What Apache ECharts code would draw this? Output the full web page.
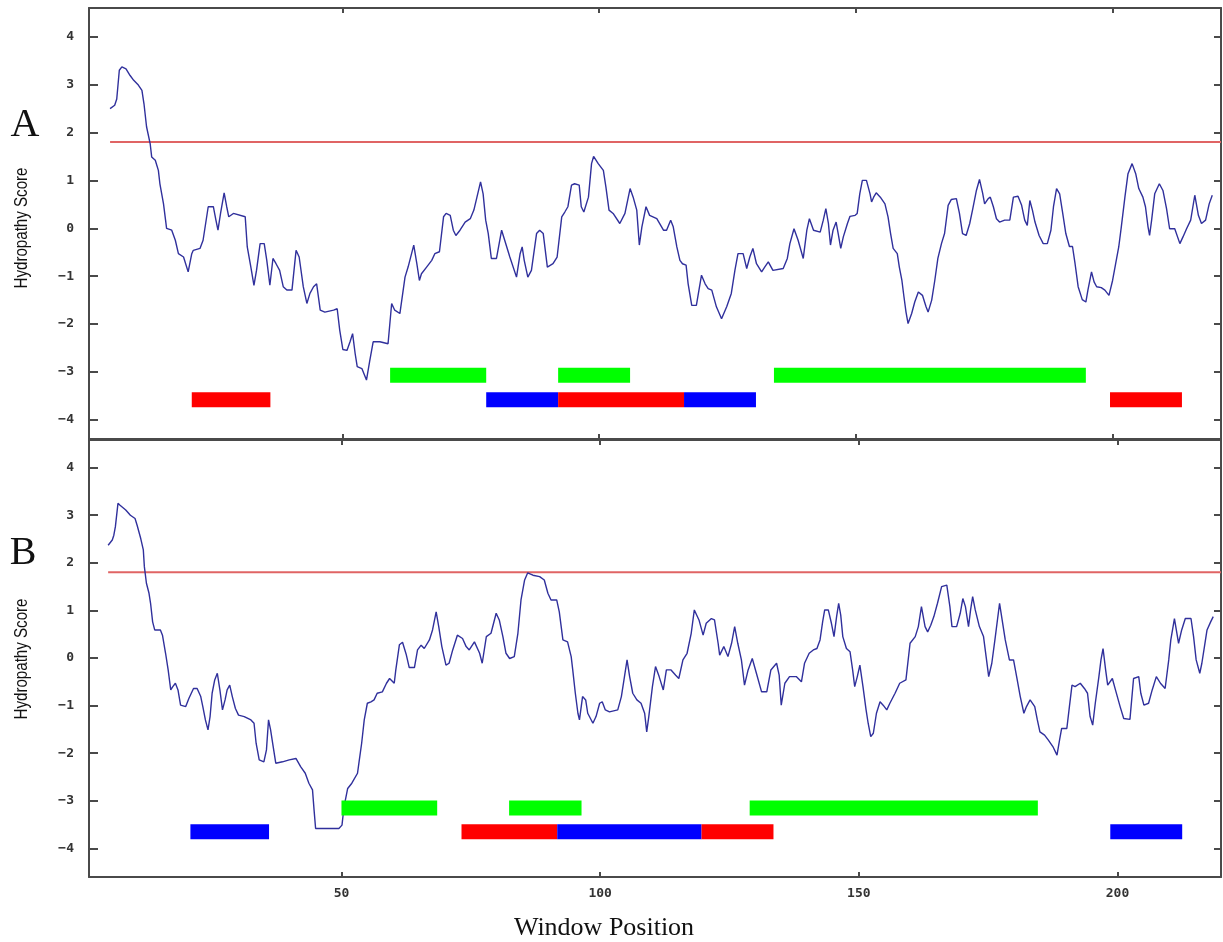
<!DOCTYPE html>
<html><head><meta charset="utf-8">
<script src="https://cdn.jsdelivr.net/npm/echarts@6/dist/echarts.min.js"></script>
<style>html,body{margin:0;padding:0;background:#fff}#c{width:1223px;height:942px}</style>
</head><body><div id="c"></div>
<script>
// ---------- DATA ----------
const scoreA = [
[4.8,2.50],[5.7,2.57],[6.1,2.70],[6.6,3.30],[7.1,3.37],[7.9,3.33],[8.7,3.19],[9.4,3.09],[10.3,2.99],[11.0,2.88],[11.4,2.60],[11.9,2.12],[12.6,1.77],[12.9,1.49],[13.6,1.42],[14.2,1.21],[14.5,0.93],[15.2,0.51],[15.6,0.17],[15.8,0.0],[16.8,-0.04],[17.5,-0.25],[18.1,-0.53],[19.1,-0.60],[20.0,-0.91],[20.7,-0.53],[21.0,-0.46],[22.3,-0.42],[22.9,-0.25],[23.9,0.45],[24.9,0.45],[25.4,0.17],[25.8,-0.04],[26.3,0.31],[27.0,0.74],[27.5,0.45],[27.9,0.24],[28.8,0.31],[31.1,0.24],[31.5,-0.39],[32.2,-0.81],[32.8,-1.19],[33.3,-0.88],[34.0,-0.32],[34.8,-0.32],[35.3,-0.67],[35.9,-1.19],[36.5,-0.63],[37.1,-0.74],[37.8,-0.88],[38.5,-1.22],[39.2,-1.29],[40.2,-1.29],[41.0,-0.46],[41.6,-0.60],[42.4,-1.22],[43.1,-1.57],[43.7,-1.36],[44.4,-1.22],[45.0,-1.16],[45.7,-1.71],[46.6,-1.75],[48.3,-1.71],[49.0,-1.68],[49.5,-2.13],[50.1,-2.53],[50.9,-2.55],[51.5,-2.37],[52.0,-2.20],[52.5,-2.62],[52.9,-2.89],[53.8,-2.93],[54.7,-3.17],[55.3,-2.79],[56.0,-2.37],[57.3,-2.37],[58.9,-2.41],[59.6,-1.57],[60.2,-1.71],[61.2,-1.78],
[62.2,-1.02],[62.8,-0.81],[63.9,-0.35],[64.5,-0.74],[65.0,-1.09],[65.4,-0.95],[66.4,-0.81],[67.4,-0.67],[68.0,-0.53],[68.9,-0.49],[69.7,0.24],[70.2,0.31],[71.0,0.27],[71.6,-0.04],[72.1,-0.15],[72.9,-0.04],[73.9,0.13],[74.9,0.20],[75.6,0.38],[76.2,0.65],[76.9,0.97],[77.4,0.72],[77.9,0.17],[78.4,-0.11],[79.0,-0.63],[80.0,-0.63],[81.0,-0.04],[81.6,-0.25],[82.6,-0.60],[83.9,-1.02],[84.6,-0.53],[85.0,-0.39],[85.4,-0.67],[86.1,-1.02],[86.8,-0.88],[87.8,-0.11],[88.4,-0.04],[89.1,-0.11],[89.9,-0.81],[91.0,-0.74],[91.8,-0.60],[92.7,0.24],[93.3,0.34],[93.9,0.45],[94.6,0.90],[95.2,0.93],[96.1,0.90],[96.5,0.45],[97.0,0.34],[97.9,0.65],[98.5,1.35],[98.9,1.50],[99.8,1.35],[100.8,1.21],[101.3,0.86],[101.9,0.38],[102.7,0.31],[104.0,0.10],[105.0,0.31],[106.0,0.83],[106.6,0.65],[107.3,0.38],[107.8,-0.35],[108.3,0.03],[109.1,0.45],[109.8,0.27],[111.2,0.20],[112.5,-0.04],[113.1,-0.04],[113.9,0.17],[114.4,0.03],[115.1,-0.39],[115.7,-0.67],[116.2,-0.74],[116.9,-0.77],[117.3,-1.16],[118.0,-1.61],[118.9,-1.61],[119.9,-0.98],[120.6,-1.16],[121.2,-1.26],[121.9,-1.29],[122.8,-1.64],[123.8,-1.89],[124.8,-1.64],[125.7,-1.36],[126.4,-0.88],[127.0,-0.53],[128.0,-0.53],[128.7,-0.84],[129.3,-0.60],[129.9,-0.42],[130.6,-0.74],[131.6,-0.91],[132.2,-0.81],[132.9,-0.70],[133.8,-0.88],[135.8,-0.84],[136.6,-0.63],[137.1,-0.32],[137.9,-0.01],[138.7,-0.25],[139.7,-0.63],[140.4,-0.04],[140.9,0.20],[141.7,-0.04],[143.0,-0.08],
[143.6,0.17],[144.1,0.41],[144.6,0.10],[145.0,-0.35],[145.5,-0.04],[146.1,0.13],[146.5,-0.11],[147.0,-0.42],[147.5,-0.18],[148.3,0.10],[148.8,0.25],[149.8,0.27],[150.2,0.31],[150.7,0.72],[151.2,1.00],[152.0,1.00],[152.7,0.72],[153.0,0.55],[153.4,0.65],[153.9,0.74],[154.7,0.65],[155.6,0.51],[156.2,0.24],[156.7,-0.11],[157.2,-0.42],[158.0,-0.53],[158.4,-0.81],[158.9,-1.09],[159.3,-1.43],[159.7,-1.75],[160.1,-1.99],[160.8,-1.78],[161.4,-1.54],[162.1,-1.33],[162.9,-1.40],[163.6,-1.64],[164.0,-1.75],[164.7,-1.50],[165.3,-1.09],[165.9,-0.63],[166.6,-0.32],[167.2,-0.11],[167.9,0.48],[168.5,0.60],[169.5,0.62],[170.1,0.31],[170.7,-0.11],[171.4,-0.15],[172.1,0.10],[172.7,0.41],[173.4,0.79],[174.0,1.02],[174.6,0.74],[175.0,0.51],[175.7,0.62],[176.1,0.65],[176.7,0.45],[177.3,0.20],[177.9,0.13],[178.9,0.17],[179.9,0.17],[180.6,0.65],[181.5,0.67],[182.2,0.48],[182.8,0.17],[183.3,0.06],[183.8,0.58],[184.3,0.38],[184.8,0.13],[185.6,-0.15],[186.4,-0.32],[187.2,-0.32],[187.9,-0.04],[188.4,0.45],[189.0,0.83],[189.6,0.72],[190.2,0.31],[190.8,-0.11],[191.5,-0.38],[192.1,-0.38],[192.6,-0.74],[193.2,-1.22],[194.0,-1.49],[194.7,-1.54],[195.1,-1.29],[195.8,-0.91],[196.3,-1.12],[196.8,-1.22],[197.7,-1.24],[198.4,-1.29],[199.2,-1.40],[199.9,-1.09],[200.5,-0.74],[201.1,-0.39],[201.6,0.03],[202.3,0.65],[202.9,1.14],[203.7,1.35],[204.4,1.14],[205.0,0.83],[205.8,0.65],[206.3,0.45],[206.8,0.03],[207.1,-0.15],[207.5,0.17],[208.1,0.72],[209.0,0.93],[209.7,0.79],[210.4,0.41],[211.0,-0.01],[212.0,-0.01],[213.0,-0.32],[213.6,-0.18],[214.3,-0.01],[215.1,0.17],[215.9,0.69],[216.6,0.27],[217.2,0.10],[218.0,0.17],[218.7,0.51],[219.3,0.69]
];
const scoreB = [
[4.9,2.37],[5.7,2.48],[6.0,2.58],[6.3,2.76],[6.8,3.25],[7.2,3.21],[8.3,3.11],[9.2,3.00],[10.1,2.93],[10.5,2.79],[11.2,2.51],[11.7,2.27],[11.9,1.92],[12.3,1.57],[12.8,1.36],[13.1,1.15],[13.5,0.76],[13.9,0.59],[15.0,0.59],[15.4,0.48],[16.0,0.10],[16.5,-0.25],[17.0,-0.67],[17.4,-0.60],[17.9,-0.53],[18.4,-0.67],[18.9,-0.99],[19.9,-1.02],[20.5,-0.85],[21.4,-0.64],[22.1,-0.64],[22.8,-0.81],[23.2,-1.02],[23.7,-1.30],[24.2,-1.51],[24.6,-1.23],[25.0,-0.74],[25.5,-0.46],[26.0,-0.32],[26.5,-0.67],[27.0,-1.09],[27.5,-0.88],[27.9,-0.67],[28.4,-0.57],[28.9,-0.81],[29.5,-1.06],[30.1,-1.20],[31.2,-1.23],[32.5,-1.30],[33.1,-1.37],[33.5,-1.79],[34.1,-2.14],[35.0,-2.18],[35.5,-1.93],[35.9,-1.30],[36.3,-1.51],[36.8,-1.86],[37.3,-2.21],[38.6,-2.18],[39.9,-2.14],[41.2,-2.11],[42.1,-2.28],[43.0,-2.42],[43.7,-2.63],[44.4,-2.77],[44.7,-3.19],[45.0,-3.58],[46.0,-3.58],[49.5,-3.58],[50.1,-3.51],[50.5,-3.12],[51.2,-2.74],[52.0,-2.63],[53.1,-2.42],[53.4,-2.18],[53.9,-1.79],[54.4,-1.30],[55.0,-0.95],[55.7,-0.92],[56.3,-0.88],[56.9,-0.74],[57.9,-0.71],[58.7,-0.53],[59.3,-0.43],[60.2,-0.53],[60.5,-0.25],[61.2,0.28],[61.8,0.33],[62.5,0.08],[63.1,-0.20],[64.1,-0.20],[64.7,0.17],[65.4,0.27],[66.0,0.20],[67.0,0.38],[67.6,0.59],[68.3,0.97],[68.8,0.66],[69.4,0.24],[70.2,-0.15],[70.8,-0.11],[71.5,0.17],[72.4,0.48],[73.4,0.41],[74.1,0.24],[74.7,0.17],[75.7,0.34],[76.7,0.10],[77.2,-0.11],[78.0,0.45],[78.9,0.52],[79.9,0.94],[80.5,0.80],[81.2,0.45],[81.8,0.10],[82.5,-0.01],[83.4,0.03],[84.1,0.52],[84.7,1.22],[85.4,1.64],[86.0,1.79],[87.0,1.74],[88.3,1.71],[89.2,1.64],[89.9,1.36],[90.5,1.22],[91.6,1.22],[92.1,0.97],[92.8,0.38],[93.7,0.34],[94.4,0.03],[94.7,-0.25],[95.2,-0.74],[95.7,-1.16],[96.0,-1.30],[96.6,-0.81],[97.2,-0.88],[97.6,-1.16],[98.6,-1.37],[99.2,-1.23],[99.9,-0.95],[100.4,-0.92],[101.0,-1.09],[101.8,-1.13],[103.4,-1.09],[104.1,-0.81],[104.7,-0.39],[105.2,-0.04],[105.7,-0.39],[106.3,-0.74],[107.1,-0.88],[107.9,-0.95],[108.6,-1.16],[109.0,-1.55],[109.4,-1.23],[110.1,-0.60],[110.7,-0.18],[111.4,-0.39],[112.2,-0.67],[112.8,-0.25],[113.7,-0.25],[114.6,-0.36],[115.2,-0.43],[116.0,-0.04],[116.8,0.10],[117.6,0.52],[118.2,1.01],[119.1,0.80],[119.9,0.48],[120.5,0.73],[121.5,0.83],[122.1,0.80],[122.8,0.31],[123.1,0.06],[123.9,0.24],[124.7,0.03],[125.4,0.31],[126.0,0.66],[126.6,0.31],[127.3,-0.04],[127.9,-0.57],[128.6,-0.25],[129.4,-0.01],[130.2,-0.32],[131.2,-0.71],[132.2,-0.71],[133.0,-0.25],[134.1,-0.11],[134.6,-0.36],[135.0,-0.99],[135.7,-0.53],[136.6,-0.39],[137.9,-0.39],[138.9,-0.50],[139.5,-0.11],[140.4,0.10],[141.2,0.17],[141.9,0.20],[142.5,0.38],[143.0,0.76],[143.4,1.01],[144.1,1.01],[144.7,0.73],[145.2,0.45],[145.7,0.87],[146.1,1.15],[146.5,0.90],[146.9,0.45],[147.6,0.20],[148.3,0.13],[148.8,-0.25],[149.2,-0.60],[149.7,-0.39],[150.2,-0.15],[150.8,-0.60],[151.4,-1.09],[151.8,-1.37],[152.3,-1.65],[152.8,-1.58],[153.4,-1.16],[154.1,-0.92],[154.7,-0.99],[155.4,-1.09],[156.0,-0.95],[157.0,-0.74],[157.9,-0.53],[159.1,-0.46],[159.9,0.31],[160.9,0.45],[161.5,0.66],[162.1,1.08],[162.8,0.66],[163.3,0.55],[163.9,0.69],[164.5,0.87],[165.2,1.15],[166.0,1.50],[167.0,1.53],[167.6,1.08],[168.0,0.66],[168.9,0.66],[169.6,0.94],[170.1,1.25],[170.6,1.08],[171.2,0.66],[171.6,1.01],[172.0,1.29],[172.5,1.01],[173.3,0.66],[174.1,0.45],[174.6,0.03],[175.1,-0.39],[175.7,-0.11],[176.3,0.38],[177.2,1.15],[177.6,0.87],[178.3,0.38],[179.1,-0.04],[179.9,-0.04],[180.5,-0.39],[181.2,-0.81],[181.9,-1.16],[182.4,-1.02],[183.1,-0.88],[184.0,-1.02],[184.5,-1.30],[185.0,-1.55],[185.9,-1.62],[186.6,-1.72],[187.5,-1.86],[188.3,-2.04],[188.8,-1.72],[189.2,-1.48],[190.2,-1.48],[190.7,-1.02],[191.2,-0.57],[191.8,-0.60],[192.8,-0.53],[193.6,-0.64],[194.2,-0.74],[194.7,-1.23],[195.2,-1.41],[195.7,-0.95],[196.4,-0.39],[196.8,-0.04],[197.2,0.20],[197.7,-0.25],[198.1,-0.57],[199.0,-0.43],[199.6,-0.67],[200.5,-1.02],[201.2,-1.27],[202.4,-1.29],[203.1,-0.43],[204.1,-0.39],[204.5,-0.74],[205.1,-0.99],[206.0,-0.95],[206.7,-0.67],[207.5,-0.39],[208.3,-0.53],[209.2,-0.64],[209.9,-0.04],[210.3,0.38],[211.0,0.83],[211.3,0.80],[211.8,0.31],[212.4,0.59],[213.1,0.83],[214.2,0.83],[214.7,0.45],[215.2,-0.04],[215.9,-0.32],[216.3,-0.11],[216.8,0.24],[217.3,0.59],[218.0,0.76],[218.5,0.87]
];
const threshold = 1.8;
// [start, end, kind]
const segmentsA = [
 [20.7,36.0,'red'],[59.3,78.0,'green'],[78.0,92.0,'blue'],[92.0,116.5,'red'],[116.5,130.5,'blue'],[92.0,106.0,'green'],[134.0,194.7,'green'],[199.4,213.4,'red']
];
const segmentsB = [
 [20.8,36.0,'blue'],[50.0,68.5,'green'],[82.4,96.4,'green'],[73.2,91.7,'red'],[91.7,119.6,'blue'],[119.6,133.5,'red'],[128.9,184.6,'green'],[198.6,212.5,'blue']
];
const yTicks = [-4,-3,-2,-1,0,1,2,3,4];
const xTicks = [50,100,150,200];
const panelLabels = ['A','B'];
const yName = 'Hydropathy Score';
const xName = 'Window Position';

// ---------- STYLE / LAYOUT ----------
const AX = '#4a4a4a';
const COLORS = {red:'#ff0000', green:'#00ff00', blue:'#0000ff'};
const panels = [
  {top:8, height:431, xMin:0.7, xMax:221, yMin:-4.4, yMax:4.6, levels:[-3.07,-3.58], data:scoreA, segs:segmentsA, showX:false, label:{x:25,y:125}, nameY:228},
  {top:440, height:437, xMin:1.2, xMax:220, yMin:-4.6, yMax:4.58, levels:[-3.15,-3.65], data:scoreB, segs:segmentsB, showX:true, label:{x:23,y:553}, nameY:659}
];

const chart = echarts.init(document.getElementById('c'), null, {renderer:'canvas'});
const grid = [], xAxis = [], yAxis = [], series = [], graphic = [];
const fmt = v => String(v).replace('-', '\u2212');

panels.forEach((p, i) => {
  grid.push({left:89, top:p.top, width:1132, height:p.height, show:false});
  const bx = xAxis.length;
  xAxis.push({type:'value', gridIndex:i, position:'bottom', min:p.xMin, max:p.xMax, splitLine:{show:false},
    axisLine:{show:true, onZero:false, lineStyle:{color:AX, width:2}},
    axisTick:{show:true, inside:true, length:5, customValues:xTicks, lineStyle:{color:AX, width:2}},
    axisLabel:{show:p.showX, customValues:xTicks, margin:10, fontFamily:'DejaVu Sans Mono', fontWeight:'bold', fontSize:13, color:'#333'}});
  xAxis.push({type:'value', gridIndex:i, position:'top', min:p.xMin, max:p.xMax, splitLine:{show:false},
    axisLine:{show:true, onZero:false, lineStyle:{color:AX, width:2}},
    axisTick:{show:true, inside:true, length:5, customValues:xTicks, lineStyle:{color:AX, width:2}},
    axisLabel:{show:false}});
  const by = yAxis.length;
  yAxis.push({type:'value', gridIndex:i, position:'left', min:p.yMin, max:p.yMax, splitLine:{show:false},
    axisLine:{show:true, onZero:false, lineStyle:{color:AX, width:2}},
    axisTick:{show:true, inside:true, length:9, customValues:yTicks, lineStyle:{color:AX, width:2}},
    axisLabel:{show:true, customValues:yTicks, margin:15, formatter:fmt, fontFamily:'DejaVu Sans Mono', fontWeight:'bold', fontSize:13, color:'#333'}});
  yAxis.push({type:'value', gridIndex:i, position:'right', min:p.yMin, max:p.yMax, splitLine:{show:false},
    axisLine:{show:true, onZero:false, lineStyle:{color:AX, width:2}},
    axisTick:{show:true, inside:true, length:7, customValues:yTicks, lineStyle:{color:AX, width:2}},
    axisLabel:{show:false}});

  series.push({type:'line', xAxisIndex:bx, yAxisIndex:by, data:[[p.data[0][0], threshold],[p.xMax, threshold]],
    symbol:'none', silent:true, lineStyle:{color:'#e06464', width:2}, z:2});
  series.push({type:'line', xAxisIndex:bx, yAxisIndex:by, data:p.data, symbol:'none', silent:true,
    lineStyle:{color:'#30309c', width:1.4}, z:3});
  const segs = p.segs;
  series.push({type:'custom', xAxisIndex:bx, yAxisIndex:by, silent:true, z:4,
    data: segs.map(s => [s[0], s[1], s[2]==='green' ? p.levels[0] : p.levels[1]]),
    encode:{x:[0,1], y:2},
    renderItem:(params, api) => {
      const a = api.coord([api.value(0), api.value(2)]);
      const b = api.coord([api.value(1), api.value(2)]);
      const h = 15;
      return {type:'rect', shape:{x:a[0], y:a[1]-h/2, width:b[0]-a[0], height:h}, style:{fill:COLORS[segs[params.dataIndex][2]]}};
    }});

  graphic.push({type:'text', x:p.label.x, y:p.label.y, style:{text:panelLabels[i], font:'40px "Liberation Serif"', fill:'#111', align:'center', verticalAlign:'middle'}});
  graphic.push({type:'text', x:22, y:p.nameY, rotation:Math.PI/2, scaleX:0.84, style:{text:yName, font:'18px "Liberation Sans"', fill:'#111', align:'center', verticalAlign:'middle'}});
});
graphic.push({type:'text', x:604, y:928, style:{text:xName, font:'26px "Liberation Serif"', fill:'#111', align:'center', verticalAlign:'middle'}});

chart.setOption({animation:false, backgroundColor:'#fff', grid, xAxis, yAxis, series, graphic});
</script>
</body></html>
